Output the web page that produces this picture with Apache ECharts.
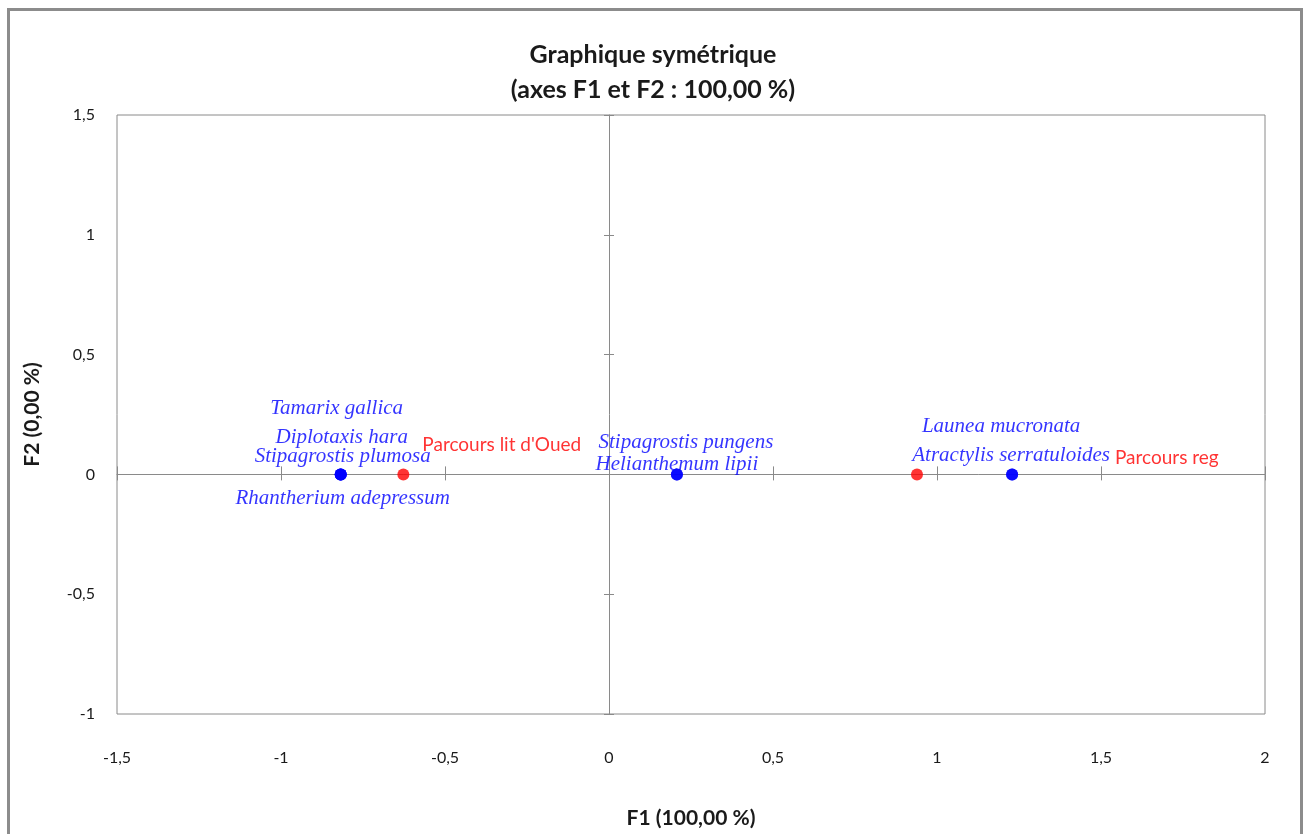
<!DOCTYPE html>
<html>
<head>
<meta charset="utf-8">
<script src="https://cdn.jsdelivr.net/npm/echarts@6/dist/echarts.min.js"></script>
<style>
  html, body { margin: 0; padding: 0; background: #ffffff; }
  #chart { width: 1306px; height: 834px; }
</style>
</head>
<body>
<div id="chart"></div>
<script>
// Sites (columns) on the first factorial plane
const siteNames = ["Parcours lit d'Oued", "Parcours reg"];
const siteF1 = [-0.627, 0.939];
const siteF2 = [0, 0];

// Species (rows) on the first factorial plane
const speciesNames = [
  'Tamarix gallica', 'Diplotaxis hara', 'Stipagrostis plumosa', 'Rhantherium adepressum',
  'Stipagrostis pungens', 'Helianthemum lipii',
  'Launea mucronata', 'Atractylis serratuloides'
];
const speciesF1 = [-0.818, -0.818, -0.818, -0.818, 0.207, 0.207, 1.229, 1.229];
const speciesF2 = [0, 0, 0, 0, 0, 0, 0, 0];

// Axis ranges
const xMin = -1.5, xMax = 2, xStep = 0.5;
const yMin = -1, yMax = 1.5, yStep = 0.5;

// Label placement (pixel offsets from each point) so stacked names do not overlap
const speciesLabelOffsets = [
  [-4, -66], [1, -37], [2, -18], [2, 24],
  [9, -32], [0, -10],
  [-11, -48], [-1, -19]
];
const siteLabelOffsets = [[19, -30], [198, -17]];

const commaFmt = v => String(v).replace('.', ',');
const axisGray = '#8a8a8a';
const textDark = '#1a1a1a';

const chart = echarts.init(document.getElementById('chart'), null, { renderer: 'canvas' });

// Axis drawn through the origin, carrying only line and tick marks
function crossAxis(isX, inside, len) {
  return {
    type: 'value',
    min: isX ? xMin : yMin,
    max: isX ? xMax : yMax,
    interval: isX ? xStep : yStep,
    axisLine: { show: inside, onZero: true, lineStyle: { color: axisGray, width: 1 } },
    axisTick: { show: true, inside: inside, length: len, lineStyle: { color: axisGray, width: 1 } },
    axisLabel: { show: false },
    splitLine: { show: false },
    silent: true
  };
}

const option = {
  backgroundColor: '#ffffff',
  animation: false,
  title: {
    text: 'Graphique symétrique\n(axes F1 et F2 : 100,00 %)',
    left: 'center',
    top: 32,
    textStyle: {
      fontFamily: 'Lato',
      fontSize: 25,
      fontWeight: 'bold',
      color: textDark,
      lineHeight: 35
    }
  },
  grid: {
    left: 117, top: 115, width: 1148, height: 607,
    show: true, borderColor: axisGray, borderWidth: 1, backgroundColor: 'transparent'
  },
  xAxis: [
    {
      type: 'value', min: xMin, max: xMax, interval: xStep,
      position: 'bottom',
      name: 'F1 (100,00 %)', nameLocation: 'middle', nameGap: 94,
      nameTextStyle: { fontFamily: 'Lato', fontSize: 21, fontWeight: 'bold', color: textDark },
      axisLine: { show: false, onZero: false },
      axisTick: { show: false },
      axisLabel: { formatter: commaFmt, margin: 36, fontFamily: 'Lato', fontSize: 16, color: textDark },
      splitLine: { show: false }
    },
    crossAxis(true, true, 6),
    crossAxis(true, false, 8)
  ],
  yAxis: [
    {
      type: 'value', min: yMin, max: yMax, interval: yStep,
      position: 'left',
      name: 'F2 (0,00 %)', nameLocation: 'middle', nameGap: 74, nameRotate: 90,
      nameTextStyle: { fontFamily: 'Lato', fontSize: 21, fontWeight: 'bold', color: textDark },
      axisLine: { show: false, onZero: false },
      axisTick: { show: false },
      axisLabel: { formatter: commaFmt, margin: 22, fontFamily: 'Lato', fontSize: 16, color: textDark },
      splitLine: { show: false }
    },
    crossAxis(false, true, 5),
    crossAxis(false, false, 5)
  ],
  graphic: [{
    type: 'rect',
    shape: { x: 8.5, y: 9.5, width: 1293, height: 860 },
    style: { fill: 'none', stroke: '#8c8c8c', lineWidth: 3 },
    silent: true,
    z: 100
  }],
  series: [
    {
      name: 'Espèces',
      type: 'scatter',
      xAxisIndex: 0, yAxisIndex: 0,
      symbolSize: 12,
      itemStyle: { color: '#0000ff' },
      data: speciesNames.map((n, i) => ({
        name: n,
        value: [speciesF1[i], speciesF2[i]],
        label: { offset: speciesLabelOffsets[i] }
      })),
      label: {
        show: true, position: 'inside', align: 'center', verticalAlign: 'middle',
        formatter: p => p.name,
        fontFamily: 'Liberation Serif', fontStyle: 'italic', fontSize: 21, color: '#0000ff'
      },
      z: 5
    },
    {
      name: 'Sites',
      type: 'scatter',
      xAxisIndex: 0, yAxisIndex: 0,
      symbolSize: 12,
      itemStyle: { color: '#ff0000' },
      data: siteNames.map((n, i) => ({
        name: n,
        value: [siteF1[i], siteF2[i]],
        label: { offset: siteLabelOffsets[i] }
      })),
      label: {
        show: true, position: 'inside', align: 'left', verticalAlign: 'middle',
        formatter: p => p.name,
        fontFamily: 'Lato', fontSize: 19, color: '#ff0000'
      },
      z: 5
    }
  ]
};

chart.setOption(option);
</script>
</body>
</html>
